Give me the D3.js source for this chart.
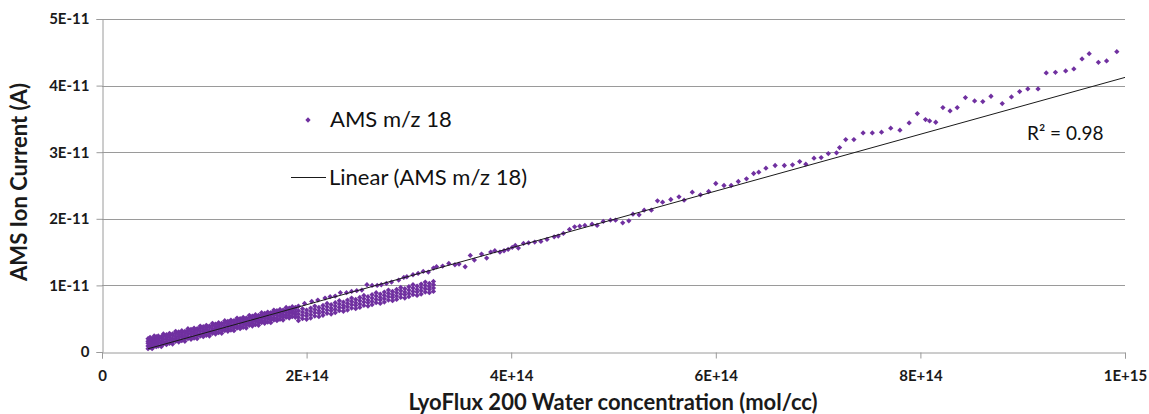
<!DOCTYPE html>
<html><head><meta charset="utf-8">
<script src="https://cdn.jsdelivr.net/npm/d3@7"></script>
<style>
body{margin:0;background:#fff}
svg{display:block}
text{font-family:Lato,"Open Sans",sans-serif}
</style>
</head><body>
<svg id="chart" width="1149" height="414"></svg>
<script>
// ---- Tick values / labels ----
const xTickValues = [0, 2, 4, 6, 8, 10];               // units of 1E+14 mol/cc
const xTickLabels = ["0", "2E+14", "4E+14", "6E+14", "8E+14", "1E+15"];
const yTickValues = [0, 1, 2, 3, 4, 5];                // units of 1E-11 A
const yTickLabels = ["0", "1E-11", "2E-11", "3E-11", "4E-11", "5E-11"];

// ---- Series "AMS m/z 18" (x in 1E+14 mol/cc, y in 1E-11 A) ----
// dense band, low concentrations: one x per column, several y readings each
const bandX = [0.45,0.47,0.49,0.51,0.53,0.55,0.58,0.60,0.63,0.66,0.69,0.72,0.75,0.78,0.81,0.84,0.87,0.90,0.93,0.96,0.99,1.02,1.05,1.08,1.11,1.14,1.17,1.20,1.23,1.26,1.29,1.32,1.35,1.38,1.41,1.44,1.47,1.50,1.53,1.56,1.59,1.62,1.65,1.68,1.71,1.74,1.77,1.80,1.83,1.86,1.89];
const bandY = [
 [0.05,0.09,0.13,0.16,0.20],[0.07,0.12,0.16,0.19,0.22],[0.05,0.09,0.13,0.18,0.20],[0.09,0.12,0.16,0.21,0.24],
 [0.08,0.12,0.16,0.19,0.23],[0.09,0.14,0.18,0.21,0.24],[0.08,0.12,0.16,0.21,0.23],[0.12,0.15,0.19,0.24,0.27],
 [0.11,0.15,0.19,0.22,0.26],[0.13,0.18,0.22,0.25,0.28],[0.12,0.16,0.20,0.25,0.27],[0.16,0.19,0.23,0.28,0.31],
 [0.15,0.19,0.23,0.26,0.30],[0.17,0.22,0.26,0.29,0.32],[0.16,0.20,0.24,0.29,0.31],[0.20,0.23,0.27,0.32,0.35],
 [0.19,0.23,0.27,0.30,0.34],[0.21,0.26,0.30,0.33,0.36],[0.20,0.24,0.28,0.33,0.35],[0.24,0.27,0.31,0.36,0.39],
 [0.23,0.27,0.31,0.34,0.38],[0.25,0.30,0.34,0.37,0.40],[0.24,0.28,0.32,0.37,0.39],[0.28,0.31,0.35,0.40,0.43],
 [0.27,0.31,0.35,0.38,0.42],[0.29,0.34,0.38,0.41,0.44],[0.28,0.32,0.36,0.41,0.43],[0.32,0.35,0.39,0.44,0.47],
 [0.31,0.35,0.39,0.42,0.46],[0.33,0.38,0.42,0.45,0.48],[0.32,0.36,0.40,0.45,0.47],[0.36,0.39,0.43,0.48,0.51],
 [0.35,0.39,0.43,0.46,0.50],[0.37,0.42,0.46,0.49,0.52],[0.36,0.40,0.44,0.49,0.51],[0.40,0.43,0.47,0.52,0.55],
 [0.39,0.43,0.47,0.50,0.54],[0.41,0.46,0.50,0.53,0.56],[0.40,0.44,0.48,0.53,0.55],[0.44,0.47,0.51,0.56,0.59],
 [0.43,0.47,0.51,0.54,0.58],[0.45,0.50,0.54,0.57,0.60],[0.44,0.48,0.52,0.57,0.59],[0.48,0.51,0.55,0.60,0.63],
 [0.47,0.51,0.55,0.58,0.62],[0.49,0.54,0.58,0.61,0.64],[0.48,0.52,0.56,0.61,0.63],[0.52,0.55,0.59,0.64,0.67],
 [0.51,0.55,0.59,0.62,0.66],[0.53,0.58,0.62,0.65,0.68],[0.52,0.56,0.60,0.65,0.67]];

// lower branch (below the trend line) up to ~3.25E+14
const branchX = [1.92,1.96,2.00,2.04,2.08,2.12,2.16,2.20,2.24,2.28,2.32,2.36,2.40,2.44,2.48,2.52,2.56,2.60,2.64,2.68,2.72,2.76,2.80,2.84,2.88,2.92,2.96,3.00,3.04,3.08,3.12,3.16,3.20,3.24];
const branchY = [
 [0.47,0.52,0.57,0.62],[0.50,0.55,0.60,0.65],[0.49,0.54,0.58,0.63],[0.51,0.56,0.61,0.66],
 [0.54,0.59,0.64,0.69],[0.53,0.58,0.62,0.67],[0.55,0.60,0.65,0.70],[0.58,0.63,0.68,0.73],
 [0.57,0.62,0.66,0.71],[0.59,0.64,0.69,0.74],[0.62,0.67,0.72,0.77],[0.61,0.66,0.70,0.75],
 [0.63,0.68,0.73,0.78],[0.66,0.71,0.76,0.81],[0.65,0.70,0.74,0.79],[0.67,0.72,0.77,0.82],
 [0.70,0.75,0.80,0.85],[0.69,0.74,0.78,0.83],[0.71,0.76,0.81,0.86],[0.74,0.79,0.84,0.89],
 [0.73,0.78,0.82,0.87],[0.75,0.80,0.85,0.90],[0.78,0.83,0.88,0.93],[0.77,0.82,0.86,0.91],
 [0.79,0.84,0.89,0.94],[0.82,0.87,0.92,0.97],[0.81,0.86,0.90,0.95],[0.83,0.88,0.93,0.98],
 [0.86,0.91,0.96,1.01],[0.85,0.90,0.94,0.99],[0.87,0.92,0.97,1.02],[0.90,0.95,1.00,1.05],
 [0.89,0.94,0.98,1.03],[0.91,0.96,1.01,1.06]];

// sparse points along the upper path
const sparseX = [1.92,1.98,2.05,2.11,2.18,2.23,2.28,2.33,2.39,2.44,2.49,2.54,2.59,2.64,2.69,2.73,2.78,2.83,2.90,2.95,2.98,3.04,3.09,3.14,3.19,3.24,3.27,3.33,3.39,3.45,3.49,3.55,3.60,3.64,3.71,3.76,3.80,3.84,3.89,3.93,3.97,4.01,4.04,4.07,4.12,4.17,4.23,4.29,4.35,4.42,4.46,4.51,4.57,4.62,4.67,4.72,4.79,4.84,4.90,4.97,5.02,5.09,5.15,5.19,5.25,5.30,5.37,5.43,5.48,5.56,5.64,5.69,5.77,5.85,5.93,6.00,6.08,6.15,6.22,6.30,6.37,6.42,6.49,6.58,6.67,6.75,6.82,6.88,6.96,7.03,7.10,7.18,7.21,7.27,7.35,7.44,7.53,7.62,7.71,7.80,7.89,7.97,8.05,8.09,8.15,8.22,8.29,8.36,8.44,8.53,8.61,8.69,8.80,8.89,8.97,9.05,9.15,9.23,9.32,9.42,9.50,9.58,9.65,9.74,9.82,9.92];
const sparseY = [0.69,0.73,0.76,0.78,0.81,0.83,0.84,0.89,0.89,0.91,0.92,0.93,1.01,1.00,1.00,1.01,1.03,1.05,1.08,1.12,1.13,1.16,1.18,1.21,1.20,1.26,1.28,1.29,1.33,1.31,1.32,1.28,1.45,1.38,1.47,1.41,1.50,1.52,1.50,1.52,1.54,1.57,1.60,1.56,1.63,1.64,1.65,1.66,1.69,1.73,1.74,1.78,1.84,1.88,1.89,1.90,1.92,1.90,1.96,1.98,1.98,1.94,1.97,2.07,2.06,2.13,2.13,2.27,2.25,2.29,2.33,2.28,2.40,2.36,2.41,2.53,2.50,2.50,2.56,2.60,2.68,2.70,2.76,2.80,2.80,2.81,2.86,2.82,2.91,2.92,2.98,2.99,3.07,3.19,3.19,3.29,3.29,3.30,3.36,3.33,3.44,3.58,3.49,3.47,3.45,3.67,3.62,3.67,3.82,3.77,3.76,3.84,3.73,3.83,3.91,3.95,3.95,4.19,4.20,4.22,4.25,4.40,4.48,4.35,4.37,4.51];

// ---- Linear trend line ----
const trendSlope = 0.4266;       // 1E-11 A per 1E+14 mol/cc
const trendIntercept = -0.143;   // 1E-11 A
const trendRange = [0.45, 10];
const rSquaredLabel = "R² = 0.98";

const seriesName = "AMS m/z 18";
const trendName = "Linear (AMS m/z 18)";
const xTitle = "LyoFlux 200 Water concentration (mol/cc)";
const yTitle = "AMS Ion Current (A)";

// ---- build ----
const points = [];
bandX.forEach((x, i) => bandY[i].forEach(y => points.push([x, y])));
branchX.forEach((x, i) => branchY[i].forEach(y => points.push([x, y])));
sparseX.forEach((x, i) => points.push([x, sparseY[i]]));

const svg = d3.select("#chart");
const x = d3.scaleLinear().domain([0, 10]).range([102, 1125]);
const y = d3.scaleLinear().domain([0, 5]).range([352, 19]);
const gridColor = "#9a9a9a";
const purple = "#7030A0";

// gridlines
svg.append("g").selectAll("line").data(yTickValues.filter(v => v > 0)).join("line")
  .attr("x1", x(0)).attr("x2", x(10))
  .attr("y1", d => Math.round(y(d)) + 0.5).attr("y2", d => Math.round(y(d)) + 0.5)
  .attr("stroke", gridColor).attr("stroke-width", 1);

// y axis
const yAxis = svg.append("g").attr("transform", `translate(${x(0) + 0.5},0)`)
  .call(d3.axisLeft(y).tickValues(yTickValues).tickFormat((d, i) => yTickLabels[i]).tickSize(6).tickPadding(7));
// x axis
const xAxis = svg.append("g").attr("transform", `translate(0,${Math.round(y(0)) + 0.5})`)
  .call(d3.axisBottom(x).tickValues(xTickValues).tickFormat((d, i) => xTickLabels[i]).tickSize(6).tickPadding(12));
[yAxis, xAxis].forEach(g => {
  g.select(".domain").attr("stroke", gridColor);
  g.selectAll(".tick line").attr("stroke", gridColor);
  g.selectAll(".tick text").attr("fill", "#1a1a1a").style("font-family", "Lato, sans-serif")
    .style("font-size", "15px").style("font-weight", "bold");
});

// points
const marker = d3.symbol(d3.symbolSquare, 14);
svg.append("g").selectAll("path").data(points).join("path")
  .attr("d", marker)
  .attr("transform", d => `translate(${x(d[0])},${y(d[1])}) rotate(45)`)
  .attr("fill", purple);

// trend line
svg.append("line")
  .attr("x1", x(trendRange[0])).attr("y1", y(trendSlope * trendRange[0] + trendIntercept))
  .attr("x2", x(trendRange[1])).attr("y2", y(trendSlope * trendRange[1] + trendIntercept))
  .attr("stroke", "#1a1a1a").attr("stroke-width", 1);

// R² label
svg.append("text").attr("x", 1027).attr("y", 140).text(rSquaredLabel)
  .style("font-size", "19px").attr("fill", "#111");

// legend
svg.append("path").attr("d", marker).attr("transform", "translate(308,120) rotate(45)").attr("fill", purple);
svg.append("text").attr("x", 330).attr("y", 127).text(seriesName).style("font-size", "22px").attr("fill", "#111");
svg.append("line").attr("x1", 291).attr("x2", 326).attr("y1", 177.5).attr("y2", 177.5).attr("stroke", "#1a1a1a");
svg.append("text").attr("x", 329).attr("y", 185).text(trendName).style("font-size", "22px").attr("fill", "#111");

// axis titles
svg.append("text").attr("x", 613).attr("y", 410).attr("text-anchor", "middle")
  .text(xTitle).style("font-size", "22px").style("font-weight", "bold").attr("fill", "#1a1a1a");
svg.append("text").attr("transform", "translate(27,182) rotate(-90)").attr("text-anchor", "middle")
  .text(yTitle).style("font-size", "22px").style("font-weight", "bold").attr("fill", "#1a1a1a");
</script>
</body></html>
